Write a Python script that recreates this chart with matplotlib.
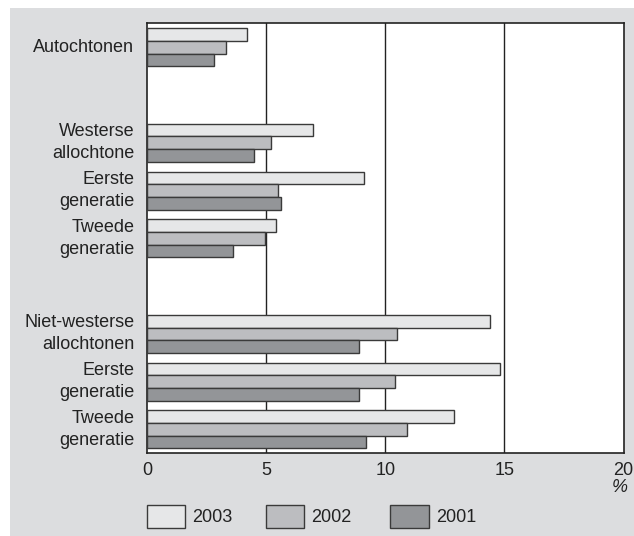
import matplotlib
matplotlib.use("Agg")
import matplotlib.pyplot as plt
from matplotlib.patches import Rectangle

plt.rcParams['font.family'] = ['Liberation Sans', 'DejaVu Sans']

categories = ["Autochtonen", "", "Westerse\nallochtone", "Eerste\ngeneratie", "Tweede\ngeneratie",
              "", "Niet-westerse\nallochtonen", "Eerste\ngeneratie", "Tweede\ngeneratie"]
years = ["2003", "2002", "2001"]
v2003 = [4.2, None, 6.95, 9.1, 5.4, None, 14.4, 14.8, 12.9]
v2002 = [3.3, None, 5.2, 5.5, 4.95, None, 10.5, 10.4, 10.9]
v2001 = [2.8, None, 4.5, 5.6, 3.6, None, 8.9, 8.9, 9.2]
series = [v2003, v2002, v2001]
colors = ["#e6e7e8", "#bcbdc0", "#939598"]
xticks = [0, 5, 10, 15, 20]

FS = 13
W, H = 634, 536
fig = plt.figure(figsize=(W / 100, H / 100), dpi=100)
fig.patches.append(Rectangle((10 / W, 0), 1 - 10 / W, 1 - 8 / H, transform=fig.transFigure,
                             facecolor="#dcdddf", edgecolor="none", zorder=-10))

ax = fig.add_axes([147.3 / W, 1 - 453 / H, (623.5 - 147.3) / W, (453 - 23) / H])
ax.set_facecolor("white")

bh = 0.265
off = 0.11
for k, (vals, col) in enumerate(zip(series, colors)):
    ys, ws = [], []
    for i, v in enumerate(vals):
        if v is None:
            continue
        ys.append(i + off + k * bh)
        ws.append(v)
    ax.barh(ys, ws, height=bh, align="edge", color=col, edgecolor="#3a3a3a",
            linewidth=1.0, zorder=3)

ax.set_ylim(len(categories), 0)
ax.set_xlim(0, 20)
ax.set_yticks([])
ax.set_xticks(xticks)
ax.set_xticklabels([str(t) for t in xticks], fontsize=FS, color="#222222")
ax.tick_params(axis="x", length=0, pad=6.5)
for t in xticks[1:-1]:
    ax.axvline(t, color="#222222", linewidth=1.0, zorder=2)
for s in ax.spines.values():
    s.set_color("#222222")
    s.set_linewidth(1.2)

for i, lab in enumerate(categories):
    if lab:
        ax.text(-0.55, i + off + 1.5 * bh, lab, ha="right", va="center", fontsize=FS,
                color="#222222", linespacing=1.38)

fig.text(628 / W, 1 - 487 / H, "%", ha="right", va="center", fontsize=FS, style="italic",
         color="#222222")

box_x = [146.7, 265.9, 390.5]
for x0, y, col in zip(box_x, years, colors):
    fig.patches.append(Rectangle((x0 / W, 1 - 528.3 / H), 38.5 / W, 23.3 / H,
                                 transform=fig.transFigure,
                                 facecolor=col, edgecolor="#3a3a3a", linewidth=1.0))
    fig.text((x0 + 45.6) / W, 1 - 517.5 / H, y, ha="left", va="center", fontsize=FS,
             color="#222222")

fig.savefig("out.png", dpi=100)
